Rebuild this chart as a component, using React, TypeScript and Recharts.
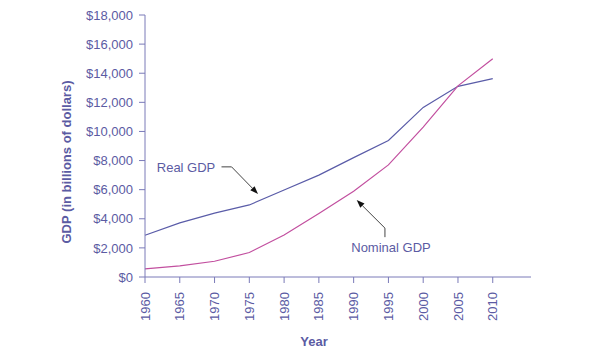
import React from "react";
import { LineChart, Line, XAxis, YAxis, ReferenceLine, ReferenceDot, Label } from "recharts";

const years = [1960, 1965, 1970, 1975, 1980, 1985, 1990, 1995, 2000, 2005, 2010];
const realGDP = [2870, 3720, 4390, 4950, 5980, 7000, 8200, 9380, 11650, 13100, 13630];
const nominalGDP = [560, 760, 1080, 1680, 2880, 4370, 5890, 7700, 10300, 13130, 14990];
const yTicks = [0, 2000, 4000, 6000, 8000, 10000, 12000, 14000, 16000, 18000];
const xTicks = years;

const data = years.map((year, i) => ({ year, real: realGDP[i], nominal: nominalGDP[i] }));

const AXIS = "#7a7ab8";
const TEXT = "#5b5ba3";
const REAL = "#5a5ca8";
const NOMINAL = "#c24f9f";
const ARROW = "#444444";
const FONT = "'Liberation Sans', Arial, sans-serif";

const fmt = (v: number) => "$" + v.toLocaleString("en-US");

const XTick = (props: any) => {
  const { x, y, payload } = props;
  return (
    <g transform={`translate(${x},${y})`}>
      <text transform="rotate(-90)" x={0} y={0} dy="0.35em" textAnchor="end" fill={TEXT} fontSize={13} fontFamily={FONT}>
        {payload.value}
      </text>
    </g>
  );
};

const plainSeg = (props: any) => {
  const { x1, y1, x2, y2 } = props;
  return <line x1={x1} y1={y1} x2={x2} y2={y2} stroke={ARROW} strokeWidth={1} />;
};

const arrowSeg = (props: any) => {
  const { x1, y1, x2, y2 } = props;
  const ang = Math.atan2(y2 - y1, x2 - x1);
  const len = 8;
  const w = 3;
  const bx = x2 - len * Math.cos(ang);
  const by = y2 - len * Math.sin(ang);
  const px = -Math.sin(ang) * w;
  const py = Math.cos(ang) * w;
  return (
    <g>
      <line x1={x1} y1={y1} x2={bx} y2={by} stroke={ARROW} strokeWidth={1} />
      <polygon points={`${x2},${y2} ${bx + px},${by + py} ${bx - px},${by - py}`} fill="#111" />
    </g>
  );
};

const textShape = (label: string) => (props: any) => {
  const { cx, cy } = props;
  return (
    <text x={cx} y={cy} dy="0.35em" textAnchor="middle" fill={TEXT} fontSize={13} fontFamily={FONT}>
      {label}
    </text>
  );
};

const YLabel = (props: any) => {
  const { viewBox } = props;
  const x = viewBox.x + 46;
  const y = viewBox.y + viewBox.height / 2 + 16;
  return (
    <text x={x} y={y} transform={`rotate(-90, ${x}, ${y})`} dy="0.35em" textAnchor="middle" fill={TEXT} fontSize={13} fontWeight="bold" fontFamily={FONT}>
      GDP (in billions of dollars)
    </text>
  );
};

const XLabel = (props: any) => {
  const { viewBox } = props;
  const x = viewBox.x + viewBox.width / 2 - 24;
  const y = viewBox.y + viewBox.height - 13;
  return (
    <text x={x} y={y} dy="0.35em" textAnchor="middle" fill={TEXT} fontSize={13} fontWeight="bold" fontFamily={FONT}>
      Year
    </text>
  );
};

export default function App() {
  return (
    <div style={{ position: "absolute", left: 0, top: 0, width: 589, height: 354, background: "#fff" }}>
      <LineChart width={589} height={354} data={data} margin={{ top: 15, right: 58, bottom: 0, left: 20 }}>
        <XAxis
          dataKey="year"
          type="number"
          domain={[1960, 2015.5]}
          ticks={xTicks}
          interval={0}
          height={77}
          stroke={AXIS}
          tickLine={{ stroke: AXIS }}
          tickSize={6}
          tickMargin={9}
          tick={<XTick />}
        >
          <Label content={<XLabel />} />
        </XAxis>
        <YAxis
          domain={[0, 18000]}
          ticks={yTicks}
          interval={0}
          width={125}
          stroke={AXIS}
          tickLine={{ stroke: AXIS }}
          tickSize={6}
          tickMargin={6}
          tickFormatter={fmt}
          tick={{ fill: TEXT, fontSize: 13, fontFamily: FONT }}
        >
          <Label content={<YLabel />} />
        </YAxis>
        <Line type="linear" dataKey="real" stroke={REAL} strokeWidth={1.2} dot={false} isAnimationActive={false} />
        <Line type="linear" dataKey="nominal" stroke={NOMINAL} strokeWidth={1.2} dot={false} isAnimationActive={false} />
        <ReferenceLine segment={[{ x: 1971.0, y: 7566 }, { x: 1972.45, y: 7566 }]} shape={plainSeg} ifOverflow="visible" />
        <ReferenceLine segment={[{ x: 1972.45, y: 7566 }, { x: 1976.25, y: 5704 }]} shape={arrowSeg} ifOverflow="visible" />
        <ReferenceLine segment={[{ x: 1994.5, y: 2738 }, { x: 1994.5, y: 3359 }]} shape={plainSeg} ifOverflow="visible" />
        <ReferenceLine segment={[{ x: 1994.5, y: 3359 }, { x: 1990.44, y: 5290 }]} shape={arrowSeg} ifOverflow="visible" />
        <ReferenceDot x={1965.9} y={7497} r={0} shape={textShape("Real GDP")} ifOverflow="visible" />
        <ReferenceDot x={1995.37} y={2028} r={0} shape={textShape("Nominal GDP")} ifOverflow="visible" />
      </LineChart>
    </div>
  );
}
